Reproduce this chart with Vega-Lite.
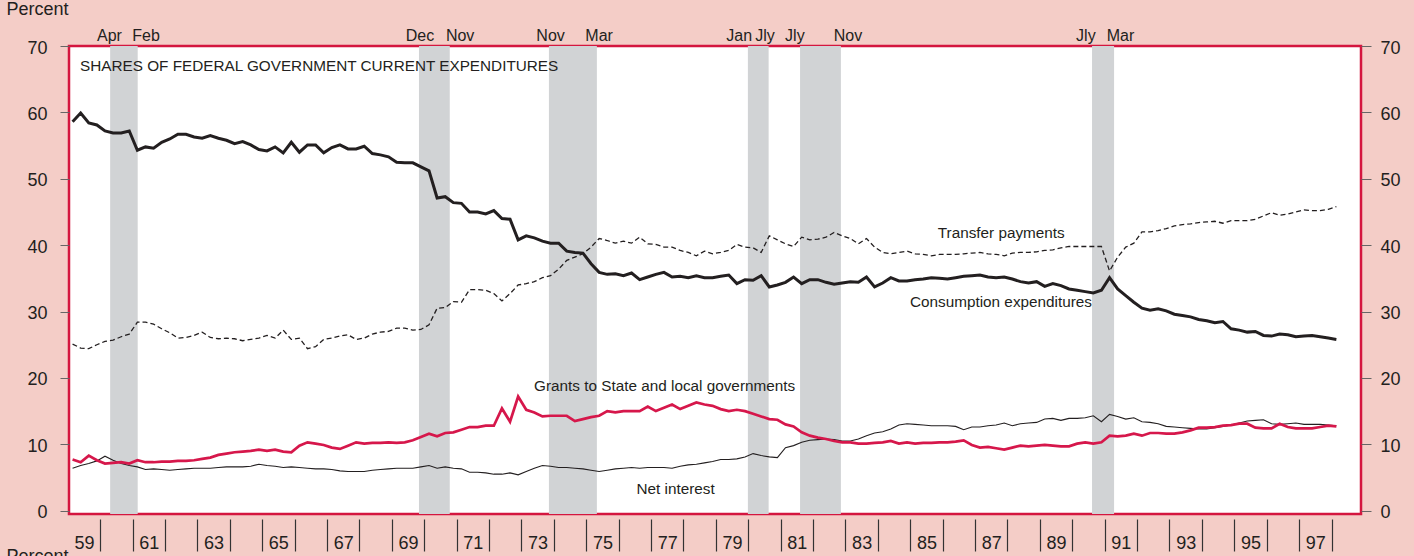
{
  "$schema": "https://vega.github.io/schema/vega-lite/v6.json",
  "width": 1292,
  "height": 468,
  "autosize": {"type": "none"},
  "padding": {"left": 69, "top": 46, "right": 53, "bottom": 42},
  "background": "#f4cdc7",
  "config": {
    "view": {"fill": "#ffffff", "stroke": "#d4163f", "strokeWidth": 2.5},
    "font": "Liberation Sans",
    "axis": {"labelFont": "Liberation Sans", "labelFontSize": 18, "labelColor": "#231f20", "grid": false, "domain": false, "titleFont": "Liberation Sans", "titleFontSize": 18, "titleFontWeight": "normal", "titleColor": "#231f20"}
  },
  "datasets": {
    "series": [
      {"t":1959.15,"cons":58.6,"trans":25.1,"grants":7.7,"interest":6.4},
      {"t":1959.4,"cons":59.9,"trans":24.5,"grants":7.3,"interest":6.8},
      {"t":1959.65,"cons":58.4,"trans":24.4,"grants":8.3,"interest":7.1},
      {"t":1959.9,"cons":58.1,"trans":25.0,"grants":7.6,"interest":7.5},
      {"t":1960.15,"cons":57.2,"trans":25.5,"grants":7.1,"interest":8.2},
      {"t":1960.4,"cons":56.9,"trans":25.7,"grants":7.2,"interest":7.6},
      {"t":1960.65,"cons":56.9,"trans":26.2,"grants":7.3,"interest":7.1},
      {"t":1960.9,"cons":57.2,"trans":26.6,"grants":7.1,"interest":6.8},
      {"t":1961.15,"cons":54.3,"trans":28.4,"grants":7.6,"interest":6.6},
      {"t":1961.4,"cons":54.8,"trans":28.4,"grants":7.3,"interest":6.2},
      {"t":1961.65,"cons":54.6,"trans":28.1,"grants":7.3,"interest":6.3},
      {"t":1961.9,"cons":55.5,"trans":27.4,"grants":7.4,"interest":6.2},
      {"t":1962.15,"cons":56.0,"trans":26.8,"grants":7.4,"interest":6.1},
      {"t":1962.4,"cons":56.7,"trans":26.0,"grants":7.5,"interest":6.2},
      {"t":1962.65,"cons":56.7,"trans":26.1,"grants":7.5,"interest":6.3},
      {"t":1962.9,"cons":56.3,"trans":26.4,"grants":7.6,"interest":6.4},
      {"t":1963.15,"cons":56.1,"trans":26.9,"grants":7.8,"interest":6.4},
      {"t":1963.4,"cons":56.5,"trans":26.1,"grants":8.0,"interest":6.4},
      {"t":1963.65,"cons":56.1,"trans":25.9,"grants":8.4,"interest":6.5},
      {"t":1963.9,"cons":55.8,"trans":26.0,"grants":8.6,"interest":6.6},
      {"t":1964.15,"cons":55.3,"trans":25.9,"grants":8.8,"interest":6.6},
      {"t":1964.4,"cons":55.6,"trans":25.6,"grants":8.9,"interest":6.6},
      {"t":1964.65,"cons":55.1,"trans":25.8,"grants":9.0,"interest":6.7},
      {"t":1964.9,"cons":54.4,"trans":26.0,"grants":9.2,"interest":7.0},
      {"t":1965.15,"cons":54.2,"trans":26.4,"grants":9.0,"interest":6.8},
      {"t":1965.4,"cons":54.8,"trans":26.0,"grants":9.2,"interest":6.7},
      {"t":1965.65,"cons":53.9,"trans":27.2,"grants":8.9,"interest":6.5},
      {"t":1965.9,"cons":55.5,"trans":25.8,"grants":8.8,"interest":6.6},
      {"t":1966.15,"cons":54.0,"trans":26.0,"grants":9.8,"interest":6.5},
      {"t":1966.4,"cons":55.1,"trans":24.4,"grants":10.3,"interest":6.4},
      {"t":1966.65,"cons":55.1,"trans":24.7,"grants":10.1,"interest":6.3},
      {"t":1966.9,"cons":53.9,"trans":25.8,"grants":9.9,"interest":6.3},
      {"t":1967.15,"cons":54.7,"trans":26.0,"grants":9.5,"interest":6.2},
      {"t":1967.4,"cons":55.1,"trans":26.3,"grants":9.3,"interest":6.0},
      {"t":1967.65,"cons":54.5,"trans":26.5,"grants":9.8,"interest":5.9},
      {"t":1967.9,"cons":54.5,"trans":25.8,"grants":10.3,"interest":5.9},
      {"t":1968.15,"cons":54.9,"trans":26.0,"grants":10.1,"interest":5.9},
      {"t":1968.4,"cons":53.8,"trans":26.6,"grants":10.2,"interest":6.1},
      {"t":1968.65,"cons":53.6,"trans":26.9,"grants":10.2,"interest":6.2},
      {"t":1968.9,"cons":53.3,"trans":27.0,"grants":10.3,"interest":6.3},
      {"t":1969.15,"cons":52.5,"trans":27.5,"grants":10.2,"interest":6.4},
      {"t":1969.4,"cons":52.4,"trans":27.5,"grants":10.3,"interest":6.4},
      {"t":1969.65,"cons":52.4,"trans":27.2,"grants":10.6,"interest":6.4},
      {"t":1969.9,"cons":51.8,"trans":27.3,"grants":11.1,"interest":6.6},
      {"t":1970.15,"cons":51.2,"trans":28.0,"grants":11.6,"interest":6.8},
      {"t":1970.4,"cons":47.1,"trans":30.5,"grants":11.2,"interest":6.4},
      {"t":1970.65,"cons":47.3,"trans":30.6,"grants":11.7,"interest":6.6},
      {"t":1970.9,"cons":46.4,"trans":31.5,"grants":11.8,"interest":6.4},
      {"t":1971.15,"cons":46.3,"trans":31.4,"grants":12.2,"interest":6.3},
      {"t":1971.4,"cons":45.0,"trans":33.3,"grants":12.6,"interest":5.8},
      {"t":1971.65,"cons":45.0,"trans":33.3,"grants":12.6,"interest":5.8},
      {"t":1971.9,"cons":44.7,"trans":33.2,"grants":12.8,"interest":5.7},
      {"t":1972.15,"cons":45.2,"trans":32.7,"grants":12.8,"interest":5.5},
      {"t":1972.4,"cons":44.0,"trans":31.6,"grants":15.4,"interest":5.5},
      {"t":1972.65,"cons":43.9,"trans":32.7,"grants":13.4,"interest":5.7},
      {"t":1972.9,"cons":40.8,"trans":34.0,"grants":17.2,"interest":5.4},
      {"t":1973.15,"cons":41.4,"trans":34.2,"grants":15.2,"interest":5.9},
      {"t":1973.4,"cons":41.1,"trans":34.5,"grants":14.8,"interest":6.4},
      {"t":1973.65,"cons":40.6,"trans":35.1,"grants":14.2,"interest":6.8},
      {"t":1973.9,"cons":40.3,"trans":35.4,"grants":14.3,"interest":6.7},
      {"t":1974.15,"cons":40.3,"trans":36.4,"grants":14.3,"interest":6.5},
      {"t":1974.4,"cons":39.1,"trans":37.7,"grants":14.3,"interest":6.5},
      {"t":1974.65,"cons":38.9,"trans":38.2,"grants":13.5,"interest":6.4},
      {"t":1974.9,"cons":38.8,"trans":38.7,"grants":13.8,"interest":6.3},
      {"t":1975.15,"cons":37.2,"trans":39.7,"grants":14.1,"interest":6.1},
      {"t":1975.4,"cons":35.9,"trans":41.0,"grants":14.3,"interest":5.9},
      {"t":1975.65,"cons":35.6,"trans":40.7,"grants":15.0,"interest":6.1},
      {"t":1975.9,"cons":35.7,"trans":40.3,"grants":14.8,"interest":6.3},
      {"t":1976.15,"cons":35.4,"trans":40.6,"grants":15.0,"interest":6.4},
      {"t":1976.4,"cons":35.8,"trans":40.3,"grants":15.0,"interest":6.5},
      {"t":1976.65,"cons":34.8,"trans":41.2,"grants":15.0,"interest":6.4},
      {"t":1976.9,"cons":35.2,"trans":40.2,"grants":15.7,"interest":6.5},
      {"t":1977.15,"cons":35.6,"trans":40.1,"grants":15.0,"interest":6.5},
      {"t":1977.4,"cons":35.9,"trans":39.7,"grants":15.5,"interest":6.5},
      {"t":1977.65,"cons":35.2,"trans":39.7,"grants":16.0,"interest":6.4},
      {"t":1977.9,"cons":35.3,"trans":39.2,"grants":15.3,"interest":6.7},
      {"t":1978.15,"cons":35.1,"trans":38.9,"grants":15.8,"interest":6.9},
      {"t":1978.4,"cons":35.4,"trans":38.4,"grants":16.3,"interest":7.0},
      {"t":1978.65,"cons":35.1,"trans":39.1,"grants":16.0,"interest":7.2},
      {"t":1978.9,"cons":35.1,"trans":38.7,"grants":15.8,"interest":7.4},
      {"t":1979.15,"cons":35.3,"trans":38.9,"grants":15.3,"interest":7.7},
      {"t":1979.4,"cons":35.5,"trans":39.2,"grants":15.0,"interest":7.7},
      {"t":1979.65,"cons":34.2,"trans":40.1,"grants":15.2,"interest":7.8},
      {"t":1979.9,"cons":34.8,"trans":39.7,"grants":15.0,"interest":8.1},
      {"t":1980.15,"cons":34.7,"trans":39.6,"grants":14.6,"interest":8.6},
      {"t":1980.4,"cons":35.4,"trans":38.9,"grants":14.2,"interest":8.3},
      {"t":1980.65,"cons":33.7,"trans":41.4,"grants":13.8,"interest":8.1},
      {"t":1980.9,"cons":34.0,"trans":40.8,"grants":13.7,"interest":8.0},
      {"t":1981.15,"cons":34.4,"trans":40.2,"grants":13.0,"interest":9.5},
      {"t":1981.4,"cons":35.2,"trans":39.8,"grants":12.7,"interest":9.8},
      {"t":1981.65,"cons":34.2,"trans":41.2,"grants":11.8,"interest":10.3},
      {"t":1981.9,"cons":34.8,"trans":40.8,"grants":11.3,"interest":10.6},
      {"t":1982.15,"cons":34.8,"trans":40.9,"grants":11.0,"interest":10.7},
      {"t":1982.4,"cons":34.4,"trans":41.2,"grants":10.8,"interest":10.8},
      {"t":1982.65,"cons":34.1,"trans":41.9,"grants":10.5,"interest":10.7},
      {"t":1982.9,"cons":34.3,"trans":41.4,"grants":10.3,"interest":10.5},
      {"t":1983.15,"cons":34.5,"trans":41.0,"grants":10.3,"interest":10.5},
      {"t":1983.4,"cons":34.4,"trans":40.2,"grants":10.1,"interest":10.8},
      {"t":1983.65,"cons":35.2,"trans":41.0,"grants":10.1,"interest":11.3},
      {"t":1983.9,"cons":33.7,"trans":39.7,"grants":10.2,"interest":11.7},
      {"t":1984.15,"cons":34.3,"trans":38.9,"grants":10.3,"interest":11.9},
      {"t":1984.4,"cons":35.1,"trans":38.7,"grants":10.5,"interest":12.3},
      {"t":1984.65,"cons":34.6,"trans":38.9,"grants":10.1,"interest":12.9},
      {"t":1984.9,"cons":34.6,"trans":39.1,"grants":10.3,"interest":13.1},
      {"t":1985.15,"cons":34.8,"trans":38.7,"grants":10.1,"interest":13.0},
      {"t":1985.4,"cons":34.9,"trans":38.6,"grants":10.2,"interest":12.9},
      {"t":1985.65,"cons":35.1,"trans":38.4,"grants":10.2,"interest":12.8},
      {"t":1985.9,"cons":35.0,"trans":38.6,"grants":10.3,"interest":12.8},
      {"t":1986.15,"cons":34.9,"trans":38.6,"grants":10.3,"interest":12.8},
      {"t":1986.4,"cons":35.1,"trans":38.6,"grants":10.4,"interest":12.7},
      {"t":1986.65,"cons":35.3,"trans":38.7,"grants":10.6,"interest":12.2},
      {"t":1986.9,"cons":35.4,"trans":38.8,"grants":9.9,"interest":12.6},
      {"t":1987.15,"cons":35.5,"trans":38.9,"grants":9.5,"interest":12.6},
      {"t":1987.4,"cons":35.2,"trans":38.7,"grants":9.6,"interest":12.8},
      {"t":1987.65,"cons":35.1,"trans":38.6,"grants":9.4,"interest":12.9},
      {"t":1987.9,"cons":35.2,"trans":38.4,"grants":9.2,"interest":13.2},
      {"t":1988.15,"cons":34.9,"trans":38.8,"grants":9.5,"interest":12.8},
      {"t":1988.4,"cons":34.5,"trans":38.9,"grants":9.8,"interest":13.1},
      {"t":1988.65,"cons":34.3,"trans":38.9,"grants":9.7,"interest":13.2},
      {"t":1988.9,"cons":34.5,"trans":39.0,"grants":9.8,"interest":13.3},
      {"t":1989.15,"cons":33.8,"trans":39.2,"grants":9.9,"interest":13.8},
      {"t":1989.4,"cons":34.2,"trans":39.3,"grants":9.8,"interest":13.9},
      {"t":1989.65,"cons":33.9,"trans":39.6,"grants":9.7,"interest":13.6},
      {"t":1989.9,"cons":33.4,"trans":39.8,"grants":9.7,"interest":13.9},
      {"t":1990.15,"cons":33.2,"trans":39.8,"grants":10.1,"interest":13.9},
      {"t":1990.4,"cons":33.0,"trans":39.8,"grants":10.3,"interest":14.0},
      {"t":1990.65,"cons":32.8,"trans":39.8,"grants":10.1,"interest":14.3},
      {"t":1990.9,"cons":33.2,"trans":39.8,"grants":10.3,"interest":13.4},
      {"t":1991.15,"cons":35.1,"trans":36.1,"grants":11.3,"interest":14.5},
      {"t":1991.4,"cons":33.4,"trans":38.2,"grants":11.2,"interest":14.2},
      {"t":1991.65,"cons":32.4,"trans":39.7,"grants":11.3,"interest":13.8},
      {"t":1991.9,"cons":31.4,"trans":40.3,"grants":11.6,"interest":14.0},
      {"t":1992.15,"cons":30.5,"trans":42.0,"grants":11.3,"interest":13.4},
      {"t":1992.4,"cons":30.2,"trans":42.0,"grants":11.7,"interest":13.3},
      {"t":1992.65,"cons":30.4,"trans":42.2,"grants":11.7,"interest":13.1},
      {"t":1992.9,"cons":30.1,"trans":42.5,"grants":11.6,"interest":12.7},
      {"t":1993.15,"cons":29.6,"trans":42.9,"grants":11.6,"interest":12.6},
      {"t":1993.4,"cons":29.4,"trans":43.1,"grants":11.8,"interest":12.5},
      {"t":1993.65,"cons":29.2,"trans":43.2,"grants":12.1,"interest":12.4},
      {"t":1993.9,"cons":28.8,"trans":43.4,"grants":12.5,"interest":12.3},
      {"t":1994.15,"cons":28.6,"trans":43.5,"grants":12.5,"interest":12.3},
      {"t":1994.4,"cons":28.3,"trans":43.6,"grants":12.6,"interest":12.5},
      {"t":1994.65,"cons":28.5,"trans":43.3,"grants":12.8,"interest":12.7},
      {"t":1994.9,"cons":27.4,"trans":43.7,"grants":12.9,"interest":12.9},
      {"t":1995.15,"cons":27.2,"trans":43.7,"grants":13.1,"interest":13.2},
      {"t":1995.4,"cons":26.9,"trans":43.7,"grants":13.1,"interest":13.5},
      {"t":1995.65,"cons":27.0,"trans":43.9,"grants":12.5,"interest":13.6},
      {"t":1995.9,"cons":26.4,"trans":44.4,"grants":12.4,"interest":13.7},
      {"t":1996.15,"cons":26.3,"trans":44.9,"grants":12.4,"interest":13.1},
      {"t":1996.4,"cons":26.6,"trans":44.5,"grants":13.1,"interest":13.0},
      {"t":1996.65,"cons":26.5,"trans":44.7,"grants":12.6,"interest":13.1},
      {"t":1996.9,"cons":26.2,"trans":45.0,"grants":12.4,"interest":13.2},
      {"t":1997.15,"cons":26.3,"trans":45.3,"grants":12.4,"interest":13.0},
      {"t":1997.4,"cons":26.4,"trans":45.2,"grants":12.4,"interest":13.0},
      {"t":1997.65,"cons":26.2,"trans":45.2,"grants":12.6,"interest":13.0},
      {"t":1997.9,"cons":26.0,"trans":45.4,"grants":12.8,"interest":12.9},
      {"t":1998.15,"cons":25.8,"trans":45.8,"grants":12.7,"interest":12.8}
    ],
    "recessions": [
      {"start": 1960.31, "end": 1961.16},
      {"start": 1969.84, "end": 1970.79},
      {"start": 1973.85, "end": 1975.33},
      {"start": 1979.99, "end": 1980.63},
      {"start": 1981.6, "end": 1982.86},
      {"start": 1990.61, "end": 1991.29}
    ],
    "turns": [
      {"t": 1960.29, "label": "Apr"},
      {"t": 1961.42, "label": "Feb"},
      {"t": 1969.87, "label": "Dec"},
      {"t": 1971.11, "label": "Nov"},
      {"t": 1973.9, "label": "Nov"},
      {"t": 1975.4, "label": "Mar"},
      {"t": 1979.72, "label": "Jan"},
      {"t": 1980.52, "label": "Jly"},
      {"t": 1981.44, "label": "Jly"},
      {"t": 1983.08, "label": "Nov"},
      {"t": 1990.42, "label": "Jly"},
      {"t": 1991.49, "label": "Mar"}
    ]
  },
  "layer": [
    {
      "data": {"name": "recessions"},
      "mark": {"type": "rect", "color": "#d1d3d5"},
      "encoding": {
        "x": {"field": "start", "type": "quantitative", "scale": {"domain": [1959.04, 1998.91]}, "axis": null},
        "x2": {"field": "end"}
      }
    },
    {
      "data": {"name": "series"},
      "mark": {"type": "line", "color": "#231f20", "strokeWidth": 1.3, "strokeDash": [5, 3]},
      "encoding": {
        "x": {"field": "t", "type": "quantitative", "scale": {"domain": [1959.04, 1998.91]}, "axis": null},
        "y": {"field": "trans", "type": "quantitative", "scale": {"domain": [-0.5, 70]},
          "axis": {"orient": "right", "values": [0,10,20,30,40,50,60,70], "tickSize": 10, "tickColor": "#666666", "labelPadding": 9, "labelOffset": 2, "title": null}}
      }
    },
    {
      "data": {"name": "series"},
      "mark": {"type": "line", "color": "#231f20", "strokeWidth": 1.1},
      "encoding": {
        "x": {"field": "t", "type": "quantitative", "scale": {"domain": [1959.04, 1998.91]}, "axis": null},
        "y": {"field": "interest", "type": "quantitative", "scale": {"domain": [-0.5, 70]}, "axis": null}
      }
    },
    {
      "data": {"name": "series"},
      "mark": {"type": "line", "color": "#d6174b", "strokeWidth": 2.7},
      "encoding": {
        "x": {"field": "t", "type": "quantitative", "scale": {"domain": [1959.04, 1998.91]}, "axis": null},
        "y": {"field": "grants", "type": "quantitative", "scale": {"domain": [-0.5, 70]}, "axis": null}
      }
    },
    {
      "data": {"name": "series"},
      "mark": {"type": "line", "color": "#231f20", "strokeWidth": 3},
      "encoding": {
        "x": {"field": "t", "type": "quantitative", "scale": {"domain": [1959.04, 1998.91]},
          "axis": {"orient": "bottom", "values": [1960,1961,1962,1963,1964,1965,1966,1967,1968,1969,1970,1971,1972,1973,1974,1975,1976,1977,1978,1979,1980,1981,1982,1983,1984,1985,1986,1987,1988,1989,1990,1991,1992,1993,1994,1995,1996,1997,1998],
            "tickSize": 32, "offset": 5, "tickColor": "#333333", "tickWidth": 1.2,
            "labelExpr": "datum.value % 2 == 0 ? '' + ((datum.value - 1) % 100) : ''",
            "labelOffset": -16.2, "labelPadding": -3, "labelBaseline": "alphabetic", "labelOverlap": false, "labelFlush": false, "labelBound": false,
            "title": "Percent", "titleX": -63, "titleY": 42, "titleAlign": "left", "titleBaseline": "alphabetic", "titleAngle": 0}},
        "y": {"field": "cons", "type": "quantitative", "scale": {"domain": [-0.5, 70]},
          "axis": {"orient": "left", "values": [0,10,20,30,40,50,60,70], "tickSize": 9, "tickColor": "#666666", "labelPadding": 13, "labelOffset": 2,
            "title": "Percent", "titleAngle": 0, "titleX": -63, "titleY": -32, "titleAlign": "left", "titleBaseline": "alphabetic"}}
      }
    },
    {
      "data": {"name": "turns"},
      "mark": {"type": "text", "font": "Liberation Sans", "fontSize": 16, "align": "center", "baseline": "alphabetic", "color": "#231f20"},
      "encoding": {
        "x": {"field": "t", "type": "quantitative", "scale": {"domain": [1959.04, 1998.91]}, "axis": null},
        "y": {"datum": 70.8, "type": "quantitative", "scale": {"domain": [-0.5, 70]}, "axis": null},
        "text": {"field": "label"}
      }
    },
    {
      "data": {"values": [{"label": "SHARES OF FEDERAL GOVERNMENT CURRENT EXPENDITURES"}]},
      "mark": {"type": "text", "font": "Liberation Sans", "fontSize": 15.3, "align": "left", "baseline": "alphabetic", "color": "#231f20"},
      "encoding": {
        "x": {"datum": 1959.38, "type": "quantitative", "scale": {"domain": [1959.04, 1998.91]}, "axis": null},
        "y": {"datum": 66.16, "type": "quantitative", "scale": {"domain": [-0.5, 70]}, "axis": null},
        "text": {"field": "label"}
      }
    },
    {
      "data": {"values": [{"label": "Transfer payments"}]},
      "mark": {"type": "text", "font": "Liberation Sans", "fontSize": 15.3, "align": "center", "baseline": "alphabetic", "color": "#231f20"},
      "encoding": {
        "x": {"datum": 1987.81, "type": "quantitative", "scale": {"domain": [1959.04, 1998.91]}, "axis": null},
        "y": {"datum": 41.12, "type": "quantitative", "scale": {"domain": [-0.5, 70]}, "axis": null},
        "text": {"field": "label"}
      }
    },
    {
      "data": {"values": [{"label": "Consumption expenditures"}]},
      "mark": {"type": "text", "font": "Liberation Sans", "fontSize": 15.3, "align": "center", "baseline": "alphabetic", "color": "#231f20"},
      "encoding": {
        "x": {"datum": 1987.8, "type": "quantitative", "scale": {"domain": [1959.04, 1998.91]}, "axis": null},
        "y": {"datum": 30.64, "type": "quantitative", "scale": {"domain": [-0.5, 70]}, "axis": null},
        "text": {"field": "label"}
      }
    },
    {
      "data": {"values": [{"label": "Grants to State and local governments"}]},
      "mark": {"type": "text", "font": "Liberation Sans", "fontSize": 15.3, "align": "center", "baseline": "alphabetic", "color": "#231f20"},
      "encoding": {
        "x": {"datum": 1977.42, "type": "quantitative", "scale": {"domain": [1959.04, 1998.91]}, "axis": null},
        "y": {"datum": 18.03, "type": "quantitative", "scale": {"domain": [-0.5, 70]}, "axis": null},
        "text": {"field": "label"}
      }
    },
    {
      "data": {"values": [{"label": "Net interest"}]},
      "mark": {"type": "text", "font": "Liberation Sans", "fontSize": 15.3, "align": "center", "baseline": "alphabetic", "color": "#231f20"},
      "encoding": {
        "x": {"datum": 1977.76, "type": "quantitative", "scale": {"domain": [1959.04, 1998.91]}, "axis": null},
        "y": {"datum": 2.46, "type": "quantitative", "scale": {"domain": [-0.5, 70]}, "axis": null},
        "text": {"field": "label"}
      }
    }
  ],
  "resolve": {"axis": {"x": "independent", "y": "independent"}}
}
